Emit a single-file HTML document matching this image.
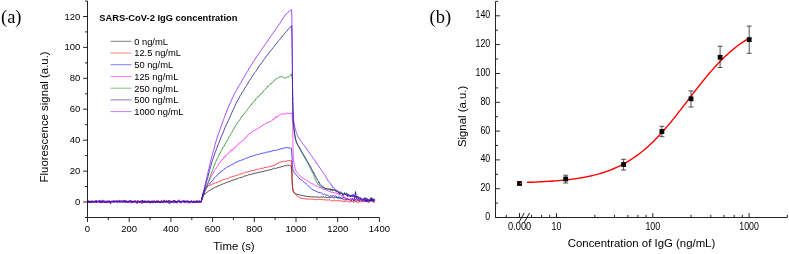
<!DOCTYPE html>
<html><head><meta charset="utf-8"><title>Figure</title>
<style>
html,body{margin:0;padding:0;background:#fff;}
body{width:789px;height:254px;overflow:hidden;font-family:"Liberation Sans",sans-serif;}
svg{display:block;}
text{font-family:"Liberation Sans",sans-serif;fill:#000;filter:grayscale(1);}
.serif{font-family:"Liberation Serif",serif;}
</style></head><body>
<svg width="789" height="254" viewBox="0 0 789 254">
<rect width="789" height="254" fill="#fff"/>
<!-- (a) time traces -->
<g fill="none" stroke-width="0.72" stroke-linejoin="round">
<path d="M87.5 201.4L88.3 201.5L89.1 201.3L89.9 201.1L90.7 201.3L91.5 201.1L92.3 201.5L93.1 201.9L93.9 201.3L94.7 201.3L95.5 201.7L96.3 201.7L97.1 201.6L97.9 201.4L98.7 201.7L99.5 201.9L100.3 201.3L101.1 201.6L101.9 201.2L102.7 201.4L103.5 201.3L104.3 201.8L105.1 201.5L105.9 202L106.7 202L107.5 201.9L108.3 201.2L109.1 201.8L109.9 202L110.7 202L111.5 201.5L112.3 201.9L113.1 201.7L113.9 201.7L114.7 202.3L115.5 201.7L116.3 201.9L117.1 202.2L117.9 201.7L118.7 201.8L119.5 201.9L120.3 201.8L121.1 201.4L121.9 201.8L122.7 202.1L123.5 201.2L124.3 201.9L125.1 201.6L125.9 201.4L126.7 202.2L127.5 201.8L128.3 201.1L129.1 201.5L129.9 201.6L130.7 201.4L131.5 201.6L132.3 201.4L133.1 201.6L133.9 201.8L134.7 201.2L135.5 201.5L136.3 201.3L137.1 201.5L137.9 201.1L138.7 201.3L139.5 201.4L140.3 201.8L141.1 201.8L141.9 201.1L142.7 201.3L143.5 201.8L144.3 201L145.1 201.5L145.9 201.7L146.7 202.1L147.5 202L148.3 201.7L149.1 201.7L149.9 201.8L150.7 202.3L151.5 201.8L152.3 201.8L153.1 202L153.9 201.9L154.7 201.9L155.5 201.6L156.3 202L157.1 201.9L157.9 202.3L158.7 202.2L159.5 202L160.3 202.2L161.1 201.9L161.9 202.3L162.7 201.9L163.5 202.1L164.3 201.5L165.1 202L165.9 201.3L166.7 201.2L167.5 201.7L168.3 201.5L169.1 201.8L169.9 202.4L170.7 201.4L171.5 201.4L172.3 201.7L173.1 201.7L173.9 201.5L174.7 201.5L175.5 201.7L176.3 201.6L177.1 201.1L177.9 201.4L178.7 201.4L179.5 201.1L180.3 201.5L181.1 201.1L181.9 201.7L182.7 201.5L183.5 201.4L184.3 201.2L185.1 201.4L185.9 200.8L186.7 201.1L187.5 201.6L188.3 200.9L189.1 201.8L189.9 201L190.7 201.8L191.5 201.4L192.3 201.9L193.1 201.7L193.9 201.3L194.7 202.1L195.5 202.2L196.3 201.8L197.1 201.8L197.9 201.8L198.7 201.6L199.5 202.3L200.3 201.8L201.1 201.9L201.2 201.5L201.9 199.2L202.6 197L203.3 195.5L204 194.6L204.7 194L205.4 193.6L206.1 193L206.8 192.5L207.5 191.9L208.2 191.4L208.9 190.8L209.6 190.3L210.3 190.2L211 189.5L211.7 189.1L212.4 188.9L213.1 188.7L213.8 187.9L214.5 187.7L215.2 187.3L215.9 186.8L216.6 186.9L217.3 186.5L218 186.2L218.7 185.7L219.4 185.6L220.1 185.1L220.8 184.9L221.5 184.4L222.2 184.1L222.9 184.3L223.6 183.6L224.3 183.5L225 183.1L225.7 182.8L226.4 182.5L227.1 182.4L227.8 182L228.5 181.8L229.2 181.5L229.9 181.5L230.6 181.1L231.3 180.8L232 180.4L232.7 180L233.4 180.1L234.1 179.9L234.8 179.4L235.5 179.3L236.2 179.1L236.9 178.9L237.6 178.7L238.3 178.2L239 178.3L239.7 177.6L240.4 177.7L241.1 177.4L241.8 177.3L242.5 177.2L243.2 176.9L243.9 176.2L244.6 175.9L245.3 176.1L246 175.6L246.7 175.5L247.4 175.5L248.1 174.8L248.8 174.6L249.5 174.8L250.2 174.6L250.9 174.3L251.6 174.2L252.3 173.9L253 173.6L253.7 173.6L254.4 173.3L255.1 173L255.8 173.3L256.5 173L257.2 172.9L257.9 172.5L258.6 172.4L259.3 172.2L260 172L260.7 172.1L261.4 171.7L262.1 171.8L262.8 171.6L263.5 171.7L264.2 170.9L264.9 171.2L265.6 170.8L266.3 170.7L267 170.3L267.7 170.3L268.4 170.3L269.1 170L269.8 169.9L270.5 169.6L271.2 169.7L271.9 169.3L272.6 168.8L273.3 168.9L274 168.5L274.7 168.1L275.4 168.4L276.1 168.6L276.8 168.1L277.5 167.7L278.2 167.5L278.9 167.7L279.6 167.3L280.3 167.1L281 166.8L281.7 166.6L282.4 166.6L283.1 166.3L283.8 166.1L284.5 165.7L285.2 165.8L285.9 165.5L286.6 165.7L287.3 165.2L288 165.3L288.7 165.3L289.4 165.1L290.1 165.8L290.8 166L291.4 165.9L292 175L292 175.8L292 176.6L292 177.3L292 178.2L292.1 179L292.1 179.8L292.1 180.6L292.2 181.4L292.2 182.2L292.2 183.1L292.3 183.8L292.3 184.6L292.4 185.5L292.5 186.2L292.5 187L292.6 187.7L292.7 188.7L292.8 189.5L292.9 190.3L293.1 191.1L293.3 191.8L293.6 192.4L294.2 192.9L295 193.3L295.7 193.7L296.4 194.1L297.2 194.3L298 194.5L298.8 194.7L299.5 194.9L300.3 195.1L301.1 195.3L301.9 195.4L302.7 195.6L303.5 195.7L304.2 195.9L305 196.1L305.8 196.2L306.6 196.4L307.4 196.5L308.2 196.6L309 196.5L309.8 196.7L310.6 196.7L311.4 196.9L312.2 196.8L313 196.9L313.8 197.1L314.6 196.9L315.4 196.9L316.2 197L317 197L317.8 196.9L318.6 197.1L319.4 197.4L320.2 197.1L321 197.1L321.8 197L322.6 197.2L323.4 196.9L324.2 197L325 197.4L325.8 197L326.6 197.5L327.4 197.6L328.2 197.3L329 197.4L329.8 197.8L330.6 197.3L331.4 197.2L332.2 197.1L333 197.5L333.8 197.9L334.6 197.8L335.4 197.3L336.2 197.4L337 197.5L337.8 197.9L338.5 197.9L339.3 198.1L340.1 198.3L340.9 198.3L341.7 198.6L342.5 198.9L343.2 199L344 199.4L344.8 200L345.6 199.8L346.4 199.8L347.2 199.3L348 200.1L348.7 199.4L349.5 199.7L350.3 200.5L351.1 200.5L351.9 200.2L352.7 199.6L353.5 200.2L354.3 200.1L355.1 200.6L355.9 201.4L356.7 200.5L357.5 200.1L358.3 200L359.1 200.5L359.9 200.4L360.7 200L361.5 200.6L362.3 200.1L363.1 201.1L363.9 201.1L364.7 201.1L365.5 200.4L366.3 200.9L367.1 200.6L367.9 200.5L368.7 200.5L369.5 200.1L370.3 200L371.1 201L371.9 200.6L372.7 200.8L373.5 201.1L374.3 199.9" stroke="#000000"/>
<path d="M87.5 201.1L88.3 201.7L89.1 201.8L89.9 201.3L90.7 202.1L91.5 201.6L92.3 200.7L93.1 200.9L93.9 201.9L94.7 201.7L95.5 200.3L96.3 202.2L97.1 201.8L97.9 202.3L98.7 201.2L99.5 201.3L100.3 200.9L101.1 203.1L101.9 201.5L102.7 202.6L103.5 201.3L104.3 201.8L105.1 200.8L105.9 201.6L106.7 202.4L107.5 201.1L108.3 202.6L109.1 202.1L109.9 201.3L110.7 201.7L111.5 201.7L112.3 202L113.1 201.7L113.9 201.5L114.7 201.8L115.5 201.4L116.3 201.2L117.1 201.9L117.9 202.4L118.7 200.9L119.5 201.8L120.3 201.4L121.1 201.2L121.9 202.2L122.7 201.4L123.5 202.5L124.3 201.1L125.1 201.8L125.9 201.4L126.7 201L127.5 201.8L128.3 201.3L129.1 201.8L129.9 201.4L130.7 200.7L131.5 201.3L132.3 201.4L133.1 202L133.9 200.9L134.7 201.4L135.5 200.4L136.3 201.9L137.1 200.9L137.9 200.5L138.7 201.6L139.5 202.3L140.3 200.8L141.1 201.1L141.9 201.3L142.7 201.1L143.5 202.1L144.3 201.4L145.1 201.5L145.9 202.3L146.7 201.5L147.5 202.2L148.3 201.4L149.1 201.3L149.9 200.9L150.7 203.1L151.5 201.8L152.3 202.1L153.1 201.9L153.9 202L154.7 201.9L155.5 203L156.3 201.2L157.1 200.8L157.9 201.1L158.7 200.9L159.5 202.1L160.3 202.1L161.1 201L161.9 200.7L162.7 201.3L163.5 202.3L164.3 199.8L165.1 201.7L165.9 200.8L166.7 202L167.5 200.8L168.3 201.2L169.1 200.5L169.9 200.8L170.7 202.3L171.5 201.9L172.3 201.2L173.1 201L173.9 200.4L174.7 201.3L175.5 201.6L176.3 201.6L177.1 201.6L177.9 201.1L178.7 201.7L179.5 201.8L180.3 202.6L181.1 203L181.9 201.8L182.7 201.5L183.5 201.9L184.3 201.6L185.1 201.5L185.9 202L186.7 201.4L187.5 202.4L188.3 201.9L189.1 202.1L189.9 201.8L190.7 201.5L191.5 201.3L192.3 201.7L193.1 201.5L193.9 201.9L194.7 201.7L195.5 200.9L196.3 201.7L197.1 200.8L197.9 201.2L198.7 201.4L199.5 200.3L200.3 201.5L201.1 201.5L201.2 201.6L201.9 198.4L202.6 195.6L203.3 193.3L204 191.5L204.7 190L205.4 188.9L206.1 188.1L206.8 187.4L207.5 186.8L208.2 186.4L208.9 185.7L209.6 185.6L210.3 185.2L211 184.8L211.7 184.5L212.4 184L213.1 183.8L213.8 183.7L214.5 183.4L215.2 183.1L215.9 182.4L216.6 182.7L217.3 182.6L218 182.3L218.7 181.8L219.4 181.1L220.1 181.5L220.8 180.9L221.5 180L222.2 180.5L222.9 179.7L223.6 179.5L224.3 179.4L225 179.6L225.7 178.9L226.4 178.8L227.1 178.9L227.8 178.6L228.5 177.9L229.2 177.6L229.9 177.1L230.6 177.1L231.3 177.1L232 176.9L232.7 176.6L233.4 176.6L234.1 175.9L234.8 175.9L235.5 175.9L236.2 175.6L236.9 175.5L237.6 175.2L238.3 174.8L239 174.7L239.7 174.2L240.4 173.8L241.1 174.1L241.8 173.7L242.5 173.6L243.2 172.9L243.9 173L244.6 172.7L245.3 172.4L246 171.8L246.7 172.1L247.4 172.2L248.1 171.9L248.8 171.4L249.5 171.3L250.2 171.3L250.9 170.3L251.6 170.7L252.3 170.7L253 170.6L253.7 170.6L254.4 170.3L255.1 169.9L255.8 169.7L256.5 169.7L257.2 169.2L257.9 169.1L258.6 169.2L259.3 169.3L260 168.6L260.7 168.4L261.4 168.3L262.1 168.5L262.8 168L263.5 168.2L264.2 167.5L264.9 167.5L265.6 167.4L266.3 167.5L267 167.5L267.7 166.7L268.4 166.7L269.1 166.9L269.8 166.4L270.5 166.1L271.2 166.5L271.9 166.2L272.6 166L273.3 165.5L274 165.6L274.7 165.1L275.4 165.1L276.1 164L276.8 163.5L277.5 163.4L278.2 162.9L278.9 163L279.6 162.6L280.3 162.1L281 162.1L281.7 161.7L282.4 161.8L283.1 161.2L283.8 161.1L284.5 161.4L285.2 161.5L285.9 161.3L286.6 160.8L287.3 160.8L288 161.1L288.7 160.7L289.4 160.5L290.1 160.7L290.8 160.8L291.5 160.7L292 175L292 175.7L292 176.6L292 177.6L292 178.3L292.1 179.2L292.1 180L292.1 180.8L292.2 181.6L292.2 182.4L292.3 183.1L292.3 183.9L292.4 184.7L292.5 185.6L292.5 186.3L292.6 187L292.7 187.8L292.8 188.5L293 189.4L293.2 190L293.5 190.8L293.9 191.6L294.3 192.5L294.8 193.1L295.2 193.7L295.7 194.4L296.2 195L296.7 195.5L297.3 196L298 196.7L298.7 197.1L299.4 197.5L300.1 197.7L300.8 198.1L301.6 198.3L302.4 198.4L303.2 198.6L304 198.6L304.8 198.8L305.6 198.9L306.4 199L307.2 199.1L308 199L308.7 199L309.5 199.2L310.3 199.1L311.1 199.2L311.9 199.2L312.7 199.3L313.5 199L314.4 199.5L315.2 199.4L316 199.6L316.8 199.8L317.6 199.5L318.4 199.2L319.2 199.4L320 199.4L320.8 199.5L321.6 199.7L322.4 199.3L323.2 199.9L324 199.5L324.8 200L325.5 199.9L326.3 199.9L327.1 200L327.9 200L328.7 200L329.5 199.7L330.3 200.3L331.1 200.9L331.9 201L332.7 200.9L333.5 200.7L334.3 200.3L335.1 201.1L335.9 200.6L336.7 200.7L337.5 200.6L338.3 200.8L339.1 200.7L339.9 200.9L340.7 200.5L341.5 200.8L342.3 202L343.1 201.1L343.9 201L344.7 201.4L345.5 201.6L346.3 200.8L347.1 201.3L347.9 201.9L348.7 201.6L349.5 201.6L350.3 202.4L351.1 201.3L351.9 201.7L352.7 201.4L353.5 202.5L354.3 200.7L355.1 201.4L355.9 201.5L356.7 202.2L357.5 202.1L358.3 202.6L359.1 200.9L359.9 202.2L360.7 201.6L361.5 201.4L362.3 202.1L363.1 201.2L363.9 200.5L364.7 201.6L365.5 200.9L366.3 201.4L367.1 202L367.9 201.9L368.7 202.7L369.5 201.6L370.3 200.8L371.1 201.2L371.9 201.1L372.7 200.9L373.5 201.8L374.3 201.1" stroke="#ff0000"/>
<path d="M87.5 199.8L88.3 202.1L89.1 201.4L89.9 201.8L90.7 201.5L91.5 202L92.3 201.5L93.1 202.5L93.9 201.8L94.7 201.7L95.5 201.7L96.3 200.2L97.1 201.3L97.9 201.2L98.7 201.6L99.5 200.3L100.3 202.8L101.1 201.5L101.9 200.4L102.7 200L103.5 201.3L104.3 201.5L105.1 200.9L105.9 201.7L106.7 201.1L107.5 202.1L108.3 201L109.1 201.7L109.9 202.5L110.7 203.9L111.5 200.9L112.3 201.4L113.1 201.1L113.9 202.5L114.7 200.9L115.5 201.5L116.3 201.9L117.1 201.1L117.9 201.1L118.7 201.6L119.5 200.2L120.3 200.8L121.1 201.6L121.9 202.1L122.7 201.8L123.5 200.5L124.3 201.6L125.1 202.7L125.9 202.5L126.7 201.9L127.5 201.2L128.3 202.5L129.1 201.5L129.9 200.9L130.7 201.2L131.5 203.1L132.3 202.1L133.1 202.8L133.9 201.4L134.7 202.6L135.5 201.3L136.3 201.6L137.1 203.8L137.9 202.3L138.7 201.2L139.5 201.6L140.3 201.9L141.1 202.6L141.9 201.1L142.7 200.1L143.5 201.3L144.3 201.5L145.1 201.6L145.9 202.6L146.7 201.7L147.5 202.1L148.3 200.5L149.1 202.2L149.9 203.2L150.7 202.1L151.5 201.6L152.3 201.5L153.1 202.9L153.9 200.6L154.7 201.3L155.5 201.8L156.3 202.1L157.1 201.1L157.9 201.7L158.7 201.2L159.5 201.6L160.3 201.4L161.1 200.6L161.9 201.6L162.7 202.3L163.5 200.8L164.3 201.4L165.1 202.2L165.9 200.8L166.7 201.9L167.5 200.9L168.3 202.7L169.1 203.8L169.9 203.5L170.7 201.7L171.5 202.5L172.3 202L173.1 202L173.9 203.2L174.7 200.8L175.5 202.9L176.3 201.9L177.1 203.2L177.9 202.2L178.7 201.4L179.5 202.2L180.3 202.6L181.1 202L181.9 202.4L182.7 201.5L183.5 200.2L184.3 202.7L185.1 202.5L185.9 202.1L186.7 202L187.5 202.8L188.3 201.5L189.1 201.3L189.9 201.7L190.7 202.8L191.5 200.6L192.3 202.8L193.1 201.2L193.9 200.8L194.7 202.7L195.5 201.6L196.3 200.5L197.1 201.3L197.9 202.4L198.7 202.6L199.5 201.2L200.3 201.9L201.1 202.1L201.2 201.6L201.9 198.4L202.6 195.4L203.3 192.9L204 191L204.7 189.6L205.4 188.5L206.1 187.7L206.8 186.8L207.5 186L208.2 185.4L208.9 184.6L209.6 184L210.3 182.8L211 182.2L211.7 181.2L212.4 180.7L213.1 179.9L213.8 178.5L214.5 177.9L215.2 177.4L215.9 176.6L216.6 175.9L217.3 175L218 174.4L218.7 173.8L219.4 173L220.1 172.7L220.8 171.4L221.5 171.4L222.2 170.5L222.9 170.4L223.6 169.6L224.3 169L225 168.7L225.7 168L226.4 167.5L227.1 167L227.8 166.8L228.5 166.5L229.2 166.2L229.9 165.5L230.6 165.4L231.3 164.8L232 164.4L232.7 164.2L233.4 163.9L234.1 163.3L234.8 162.9L235.5 162.6L236.2 162.3L236.9 161.8L237.6 161.9L238.3 161.3L239 161.1L239.7 160.6L240.4 160.5L241.1 160.2L241.8 159.8L242.5 160L243.2 159.4L243.9 159.4L244.6 159L245.3 158.4L246 158.3L246.7 158.2L247.4 157.9L248.1 157.6L248.8 157.3L249.5 156.8L250.2 156.9L250.9 156.3L251.6 156.5L252.3 156.1L253 155.9L253.7 155.7L254.4 155.6L255.1 155.1L255.8 154.8L256.5 154.7L257.2 154.3L257.9 154.3L258.6 154.6L259.3 153.9L260 154L260.7 153.4L261.4 153.6L262.1 153.3L262.8 153.2L263.5 153.1L264.2 153.2L264.9 152.7L265.6 152.5L266.3 152.1L267 152.3L267.7 152L268.4 152L269.1 151.7L269.8 151.9L270.5 151L271.2 151.2L271.9 151.2L272.6 150.8L273.3 150.6L274 150.6L274.7 150.2L275.4 150.3L276.1 150.6L276.8 150.2L277.5 149.6L278.2 149.4L278.9 149.4L279.6 149.5L280.3 148.9L281 148.7L281.7 148.9L282.4 148.7L283.1 148.3L283.8 148L284.5 147.8L285.2 147.8L285.9 147.4L286.6 148L287.3 147.6L288 147.8L288.7 148.1L289.4 148L290.1 147.7L290.8 148.3L291.4 148.3L292.2 158.1L292.2 158.8L292.2 159.7L292.2 160.6L292.3 161.3L292.3 162.4L292.3 162.9L292.4 163.8L292.4 164.7L292.5 165.4L292.5 166.2L292.6 167L292.7 167.7L292.8 168.6L292.9 169L293 169.9L293.2 170.6L293.5 171.3L293.9 172L294.4 172.6L294.9 173.3L295.4 174.1L296 174.7L296.6 175.2L297.2 176.1L297.7 176.7L298.2 177L298.8 177.7L299.3 178.4L299.9 178.8L300.5 179.3L301.1 179.8L301.8 180.2L302.4 180.8L303 181.3L303.7 181.9L304.3 182.3L304.9 182.8L305.5 183.2L306.1 183.9L306.7 184.3L307.3 184.9L307.9 185.6L308.5 186.1L309.1 186.7L309.7 187.3L310.3 187.8L310.9 188.2L311.5 188.7L312.1 189.4L312.8 189.5L313.4 190.4L314.1 190.5L314.8 190.7L315.6 191L316.3 191.3L317.1 191.8L317.8 191.9L318.6 192.6L319.3 192.4L320.1 192.3L320.8 193L321.6 192.9L322.3 193.8L323.1 194.4L323.8 194.5L324.6 194L325.4 194.4L326.1 195.5L326.9 195.1L327.7 195.2L328.5 195.7L329.3 196.4L330.1 196.1L330.9 195.7L331.7 195.9L332.5 196.2L333.2 195.8L334 195.7L334.8 196.3L335.6 196L336.4 196.5L337.2 196.8L338 198.1L338.8 196.6L339.5 197.2L340.3 197.4L341.1 197.9L341.9 198.5L342.7 197.8L343.4 197.7L344.2 197.4L345 198L345.8 199.1L346.6 198.9L347.4 198.4L348.1 198.9L348.9 199.3L349.7 199.7L350.5 199L351.3 199.3L352.1 198.2L352.9 198.8L353.7 200.9L354.5 198.1L355.3 199.6L356.1 200L356.9 199.6L357.6 199.4L358.4 200L359.2 200.1L360 200.1L360.8 198.7L361.6 200.1L362.4 199.6L363.2 199.9L364 200.6L364.8 201L365.6 201.2L366.4 200.1L367.2 201.3L368 201.5L368.8 201.5L369.6 201.8L370.4 200.5L371.3 200.5L372.1 201.4L372.9 199.6L373.7 200.9L374.5 200.3" stroke="#0000ff"/>
<path d="M87.5 201.7L88.3 200.7L89.1 201.3L89.9 201.9L90.7 202.5L91.5 202.5L92.3 201.8L93.1 201.7L93.9 201.2L94.7 202L95.5 201.6L96.3 202.1L97.1 202.9L97.9 201.6L98.7 200.6L99.5 201L100.3 200.6L101.1 200.7L101.9 202.5L102.7 201.7L103.5 200.4L104.3 202L105.1 202.4L105.9 201.2L106.7 201L107.5 201.2L108.3 201.6L109.1 201.9L109.9 202.2L110.7 202.3L111.5 202.2L112.3 202.4L113.1 201.9L113.9 200.3L114.7 201.3L115.5 201.6L116.3 201.2L117.1 202.1L117.9 201.2L118.7 200.8L119.5 202.5L120.3 202L121.1 201.7L121.9 202.2L122.7 202.3L123.5 201.8L124.3 199.9L125.1 201.1L125.9 201.3L126.7 201L127.5 201.8L128.3 202.5L129.1 201.4L129.9 201L130.7 203.2L131.5 201.5L132.3 201L133.1 202L133.9 202.2L134.7 201.4L135.5 202.5L136.3 201.6L137.1 201.3L137.9 202.1L138.7 202.5L139.5 201.5L140.3 202.2L141.1 201.9L141.9 204L142.7 201.5L143.5 203L144.3 202L145.1 201.9L145.9 202.5L146.7 202.6L147.5 202.9L148.3 202.2L149.1 201.5L149.9 201.6L150.7 202.3L151.5 202.3L152.3 202.9L153.1 202.2L153.9 202.6L154.7 202.9L155.5 201.9L156.3 200.7L157.1 200.9L157.9 200.7L158.7 202.8L159.5 201.1L160.3 202.5L161.1 202L161.9 202.8L162.7 202.3L163.5 201.5L164.3 201.4L165.1 201.6L165.9 201.6L166.7 201.1L167.5 201.5L168.3 202.6L169.1 200.3L169.9 201.6L170.7 200.8L171.5 201.5L172.3 202L173.1 201.4L173.9 201.9L174.7 200.3L175.5 202.2L176.3 201L177.1 201.8L177.9 201.5L178.7 199.6L179.5 200.9L180.3 201.6L181.1 202.5L181.9 201.7L182.7 201.7L183.5 200.5L184.3 202.5L185.1 202.8L185.9 201.6L186.7 201.4L187.5 200.5L188.3 202.3L189.1 203.6L189.9 202.2L190.7 202.6L191.5 202.1L192.3 201.1L193.1 202.7L193.9 200.9L194.7 201.7L195.5 202L196.3 202.5L197.1 202.2L197.9 202.2L198.7 201.4L199.5 201L200.3 202L201.1 201.5L201.2 201.6L201.9 199.3L202.6 197.3L203.3 195.2L204 193.4L204.7 191.5L205.4 189.7L206.1 187.6L206.8 185.9L207.5 184.4L208.2 182.7L208.9 181.2L209.6 180.1L210.3 178.3L211 176.8L211.7 175.5L212.4 174.5L213.1 173.3L213.8 171.6L214.5 170.5L215.2 169.8L215.9 168.7L216.6 167.2L217.3 166.5L218 165.5L218.7 163.8L219.4 163.3L220.1 162.5L220.8 161.3L221.5 160L222.2 159.7L222.9 159.2L223.6 158.6L224.3 156.7L225 157.4L225.7 155.5L226.4 155.4L227.1 154.8L227.8 154L228.5 153.1L229.2 152.1L229.9 151.9L230.6 150.9L231.3 149.7L232 150.7L232.7 149.5L233.4 149.2L234.1 147.8L234.8 147.9L235.5 147.4L236.2 146.8L236.9 145.7L237.6 144.7L238.3 144.4L239 143.2L239.7 142.8L240.4 142.7L241.1 141.7L241.8 141.4L242.5 140.7L243.2 140.7L243.9 139.8L244.6 138.7L245.3 138.4L246 137L246.7 136.5L247.4 136.1L248.1 134.8L248.8 134.4L249.5 133.5L250.2 133.4L250.9 133.3L251.6 132.1L252.3 131.9L253 131.1L253.7 130.5L254.4 130.1L255.1 130.4L255.8 130.3L256.5 129.3L257.2 128.5L257.9 128.5L258.6 127.8L259.3 127.8L260 127.2L260.7 126.8L261.4 126.5L262.1 125.7L262.8 125.4L263.5 124.6L264.2 124.6L264.9 123.9L265.6 123.9L266.3 123.3L267 123.2L267.7 122.9L268.4 122L269.1 121.8L269.8 121.4L270.5 121.5L271.2 121.3L271.9 120.6L272.6 119.7L273.3 119.8L274 118.4L274.7 118.7L275.4 117.6L276.1 116.4L276.8 117.6L277.5 116.8L278.2 115.6L278.9 115.5L279.6 115L280.3 114.7L281 114L281.7 114L282.4 114.1L283.1 113.9L283.8 114.1L284.5 113.7L285.2 114.4L285.9 113.4L286.6 113.7L287.3 113L288 113.1L288.7 113.9L289.4 113.2L290.1 113.6L290.8 113.4L291.5 113.1L292 113.4L292.8 125L292.8 125.8L292.8 126.6L292.8 127.5L292.8 128.3L292.8 129L292.8 129.8L292.8 130.7L292.8 131.4L292.8 132.3L292.8 133.2L292.8 133.9L292.8 134.6L292.8 135.4L292.9 136.2L292.9 137L292.9 137.8L292.9 138.6L292.9 139.4L292.9 140.3L292.9 141L292.9 141.8L292.9 142.6L292.9 143.6L293 144.3L293 145.2L293 145.9L293 146.8L293 147.4L293 148.3L293.1 149.2L293.1 149.7L293.1 150.7L293.1 151.5L293.1 152.2L293.1 153.1L293.2 153.9L293.2 154.5L293.2 155.4L293.2 156.1L293.3 157L293.4 157.8L293.4 158.6L293.5 159.5L293.6 160.3L293.7 161L293.8 162.1L294 162.8L294.1 163.6L294.2 164.3L294.4 165.1L294.6 166L294.7 166.7L294.9 167.3L295.1 168.3L295.3 169.2L295.5 169.5L295.8 170.4L296.1 171.1L296.4 171.7L296.9 172.5L297.4 173L297.9 173.7L298.5 174.4L299.1 174.9L299.6 175.5L300.2 176.1L300.8 176.6L301.4 177.2L302 177.5L302.7 178.1L303.4 178.4L304.1 179L304.8 179.3L305.5 179.6L306.1 180.2L306.8 180.5L307.5 181L308.2 181.6L308.9 181.7L309.6 182.1L310.3 182.8L311 183L311.7 183.6L312.4 183.8L313.1 184L313.8 184.5L314.5 185.1L315.2 185.4L315.9 185.6L316.6 186L317.4 186.3L318.1 186.5L318.8 187.5L319.5 187.4L320.3 187.4L321 187.9L321.7 188.6L322.4 188.9L323.2 189L323.9 189.1L324.7 189.6L325.4 189.3L326.2 189.7L326.9 190.7L327.7 190.5L328.4 191L329.2 191.6L330 191.6L330.8 191.6L331.5 192.6L332.3 192.3L333.1 192.1L333.8 192.8L334.6 192.9L335.4 192.6L336.1 193.3L336.8 193.5L337.5 193L338.2 194.2L339 194.5L339.7 194.8L340.4 194.6L341.1 195.6L341.8 196.1L342.5 196.5L343.3 196.2L344 197.6L344.7 196.9L345.5 197.8L346.2 199.1L346.9 198.2L347.7 198.7L348.4 199.9L349.2 199.2L349.9 199.5L350.7 199.9L351.5 200.5L352.3 198.4L353 199.4L353.8 199.3L354.6 199.3L355.4 199.5L356.2 199.5L357 200.4L357.9 199.5L358.7 200.3L359.5 200.5L360.3 199.7L361.1 200.4L361.9 201.6L362.7 200.6L363.5 199.9L364.3 200.3L365.1 199.7L365.9 200.6L366.7 201.1L367.5 199.9L368.3 200.4L369.1 201.4L369.9 200.2L370.7 200.7L371.5 199.8L372.3 200L373.1 200.3L373.9 202.3L374.7 200.4" stroke="#ff00ff"/>
<path d="M87.5 201.8L88.3 201.8L89.1 201.9L89.9 202.3L90.7 202.1L91.5 202.8L92.3 202L93.1 202.5L93.9 202L94.7 202.2L95.5 201.3L96.3 201.8L97.1 201.8L97.9 201.7L98.7 200.9L99.5 202.1L100.3 201.6L101.1 201.6L101.9 201.6L102.7 201.6L103.5 201.8L104.3 201.1L105.1 201.2L105.9 201.7L106.7 201.6L107.5 201.4L108.3 201.3L109.1 201.2L109.9 201.5L110.7 201.9L111.5 201L112.3 202L113.1 201.8L113.9 201.2L114.7 201.7L115.5 200.8L116.3 200.7L117.1 200.9L117.9 201.2L118.7 201.3L119.5 201.2L120.3 201.5L121.1 200.6L121.9 201.6L122.7 200.9L123.5 201.2L124.3 201.3L125.1 201L125.9 201L126.7 201.1L127.5 201.6L128.3 201.8L129.1 201.8L129.9 201.2L130.7 201.4L131.5 201.3L132.3 201.9L133.1 200.9L133.9 202.3L134.7 201.6L135.5 201.5L136.3 202L137.1 202.3L137.9 202L138.7 202.3L139.5 202L140.3 202.4L141.1 202.5L141.9 201.9L142.7 202.6L143.5 202.1L144.3 202L145.1 201.6L145.9 201.9L146.7 202.3L147.5 201.5L148.3 202.3L149.1 202.1L149.9 202.1L150.7 201.1L151.5 201.9L152.3 202.2L153.1 201.6L153.9 201.9L154.7 200.9L155.5 202.1L156.3 201.6L157.1 202.2L157.9 201.1L158.7 202.1L159.5 201.7L160.3 202.1L161.1 201.3L161.9 201.4L162.7 202.5L163.5 201.3L164.3 201.3L165.1 201.5L165.9 201.1L166.7 202L167.5 202.2L168.3 201.2L169.1 200.8L169.9 201.9L170.7 201.9L171.5 201.8L172.3 201.9L173.1 201.1L173.9 201.3L174.7 200.8L175.5 200.8L176.3 201.8L177.1 201.1L177.9 202.3L178.7 201.4L179.5 201.2L180.3 201.8L181.1 202.2L181.9 201.7L182.7 201L183.5 201.6L184.3 202.1L185.1 201.3L185.9 201.2L186.7 202L187.5 201.7L188.3 201.2L189.1 201.5L189.9 201.4L190.7 201.8L191.5 201.8L192.3 202.2L193.1 202.1L193.9 201.2L194.7 202L195.5 202.2L196.3 202L197.1 202.3L197.9 201.7L198.7 201.5L199.5 202.3L200.3 201.5L201.1 201.1L201.2 202.2L201.9 200.1L202.6 198.1L203.3 196.2L204 194.3L204.7 192.4L205.4 190.2L206.1 188.6L206.8 186.4L207.5 184.4L208.2 182.7L208.9 180.6L209.6 178.3L210.3 176.9L211 174.3L211.7 172.5L212.4 170.5L213.1 168.9L213.8 166.5L214.5 165.1L215.2 162.8L215.9 161.7L216.6 159.5L217.3 158.2L218 157.5L218.7 155.6L219.4 154.1L220.1 153.6L220.8 151.6L221.5 150L222.2 149.3L222.9 147.4L223.6 147L224.3 145.9L225 144.1L225.7 142.9L226.4 142L227.1 140.7L227.8 139.1L228.5 138.4L229.2 136.3L229.9 135.6L230.6 134.4L231.3 133.2L232 132.2L232.7 130.5L233.4 129.9L234.1 128.4L234.8 127.1L235.5 125.7L236.2 124.6L236.9 124L237.6 122.4L238.3 121.7L239 121L239.7 119.9L240.4 119.1L241.1 117.5L241.8 116.2L242.5 116L243.2 114.9L243.9 114.2L244.6 113L245.3 112.5L246 111.5L246.7 110.5L247.4 109.5L248.1 108.6L248.8 107.6L249.5 106.7L250.2 106.1L250.9 104.7L251.6 104.6L252.3 103.2L253 102.7L253.7 101.5L254.4 100.7L255.1 100.7L255.8 99.1L256.5 98L257.2 97.4L257.9 96.8L258.6 96.9L259.3 95.5L260 95L260.7 93.6L261.4 93.3L262.1 92.7L262.8 92.4L263.5 90.8L264.2 90.5L264.9 89.7L265.6 88.5L266.3 88.2L267 87.4L267.7 86L268.4 86.4L269.1 85.7L269.8 84.7L270.5 83.7L271.2 83.9L271.9 82.8L272.6 82.4L273.3 81.8L274 80.4L274.7 80.3L275.4 79.3L276.1 78.9L276.8 78.4L277.5 78.1L278.2 78.1L278.9 77.4L279.6 77L280.3 76.7L281 76.8L281.7 76.5L282.4 77L283.1 77.6L283.8 77.8L284.5 78L285.2 77.6L285.9 78.1L286.6 77.5L287.3 76.8L288 76.5L288.7 77.1L289.4 76.1L290.1 75.4L290.8 74.8L291.5 73.9L291.7 73.8L292.4 80.1L292.4 80.8L292.4 81.8L292.4 82.3L292.4 83.3L292.4 83.9L292.5 85L292.5 85.6L292.5 86.4L292.5 87.3L292.5 88.1L292.5 88.7L292.5 89.6L292.5 90.3L292.5 91.2L292.6 92L292.6 92.8L292.6 93.5L292.6 94.4L292.6 95.1L292.6 96.1L292.6 97L292.7 97.4L292.7 98.4L292.7 99.2L292.7 100L292.7 100.7L292.7 101.6L292.7 102.3L292.8 103.3L292.8 104L292.8 104.8L292.8 105.6L292.8 106.4L292.8 107L292.9 108.1L292.9 108.8L292.9 109.6L292.9 110.5L292.9 111.3L292.9 111.9L293 112.7L293 113.8L293 114.6L293 115.1L293.1 115.9L293.1 116.7L293.1 117.5L293.1 118.2L293.2 119.2L293.2 119.9L293.2 120.7L293.3 121.7L293.3 122.3L293.4 123.2L293.4 124.1L293.5 124.9L293.6 125.6L293.6 126.4L293.7 127.1L293.8 128.2L293.9 128.9L294 129.5L294.1 130.5L294.2 131.3L294.3 132.1L294.4 133L294.5 133.8L294.6 134.4L294.8 135.2L294.9 135.9L295 136.8L295.2 137.6L295.3 138.6L295.5 139.1L295.6 139.6L295.8 140.5L296 141.3L296.3 141.9L296.6 142.7L296.9 143.5L297.2 144.3L297.6 145L298 145.6L298.4 146.5L298.8 147.1L299.2 147.8L299.6 148.4L300 149.2L300.4 150L300.8 150.5L301.1 151.4L301.5 152.2L301.9 152.8L302.3 153.5L302.7 154.1L303.1 155L303.5 155.7L303.9 156.3L304.3 156.8L304.7 157.6L305.1 158.5L305.5 159.2L305.9 159.8L306.3 160.6L306.6 161.1L307 161.8L307.4 162.6L307.8 163.3L308.1 163.8L308.5 164.8L308.9 165.6L309.2 165.9L309.6 166.6L310 167.6L310.4 168.1L310.7 168.5L311.1 169.8L311.5 170.4L311.9 171L312.2 172.3L312.6 172.6L312.9 173.2L313.2 174.2L313.6 174.7L313.9 175.5L314.2 176.6L314.6 177.2L314.9 178L315.2 179.3L315.6 179.9L315.9 180.6L316.3 181.3L316.7 182L317.1 183L317.5 183.2L317.9 184.4L318.3 184.1L318.8 184.9L319.2 185L319.8 185.9L320.3 186.6L320.9 187.4L321.6 187L322.3 187.6L323.1 187.8L323.9 187.9L324.7 188L325.4 188.8L326.2 188.1L327 189.1L327.8 189.2L328.6 189L329.4 189L330.2 188.9L331 190.8L331.8 189.1L332.6 190.9L333.4 190.5L334.1 190.1L334.9 189.8L335.6 191.4L336.4 192.1L337.1 190.8L337.8 191.6L338.5 192.9L339.2 192.8L339.9 194.4L340.7 192.9L341.4 194L342.2 192.8L342.9 195.5L343.7 193.5L344.5 192.5L345.3 194.2L346.1 194.3L346.9 196.1L347.7 194.4L348.5 194.8L349.3 195.5L350.1 196.5L350.8 195.3L351.6 196.5L352.4 196.2L353.1 195.7L353.9 196.3L354.7 196.5L355.4 195.8L356.2 198.1L357 195.8L357.7 198.6L358.5 198.6L359.3 197.8L360.1 197.2L360.8 198L361.6 198.9L362.4 199.4L363.2 199L364 199.9L364.7 198.4L365.5 199.4L366.3 197.7L367.1 200.2L367.9 199.7L368.7 199.3L369.5 201L370.3 200.7L371.1 197.1L371.9 200.2L372.6 198.7L373.4 201.5L374.2 203" stroke="#008000"/>
<path d="M87.5 201.4L88.3 201.7L89.1 201.6L89.9 201.8L90.7 202L91.5 202.3L92.3 201.4L93.1 202.4L93.9 201.5L94.7 202L95.5 202.4L96.3 202.2L97.1 201.6L97.9 201.7L98.7 201.8L99.5 202L100.3 202.4L101.1 201.5L101.9 202.2L102.7 202.2L103.5 202.2L104.3 202.2L105.1 202.6L105.9 202.2L106.7 202.3L107.5 202.2L108.3 202.6L109.1 201.1L109.9 202.4L110.7 201.7L111.5 201.7L112.3 201.4L113.1 201L113.9 201.6L114.7 201.4L115.5 201.9L116.3 201L117.1 202.2L117.9 201.7L118.7 201.5L119.5 201.2L120.3 201.2L121.1 201L121.9 201.2L122.7 201.4L123.5 201.4L124.3 200.9L125.1 201.3L125.9 201L126.7 201.5L127.5 202.1L128.3 201.7L129.1 201.3L129.9 200.8L130.7 200.9L131.5 200.8L132.3 201.8L133.1 201.2L133.9 201.5L134.7 201.3L135.5 201.6L136.3 202.2L137.1 201.3L137.9 201.5L138.7 201.4L139.5 202.1L140.3 201.3L141.1 201.3L141.9 201.2L142.7 201.3L143.5 202L144.3 202.9L145.1 201.5L145.9 202.3L146.7 202L147.5 201.5L148.3 201.9L149.1 201.9L149.9 201.7L150.7 202.8L151.5 201.2L152.3 202.2L153.1 202.1L153.9 201.8L154.7 202L155.5 202.3L156.3 202L157.1 202.1L157.9 202.2L158.7 201.1L159.5 202.4L160.3 202.7L161.1 202.2L161.9 202.2L162.7 201.2L163.5 201.7L164.3 201.4L165.1 201.4L165.9 202L166.7 201.3L167.5 201.5L168.3 200.8L169.1 201.4L169.9 201.5L170.7 201.2L171.5 201.2L172.3 202.2L173.1 200.9L173.9 201L174.7 201.1L175.5 201.9L176.3 202.2L177.1 201.5L177.9 201.1L178.7 201.2L179.5 201.9L180.3 201.1L181.1 202L181.9 202.1L182.7 201.5L183.5 201.8L184.3 201.9L185.1 202.2L185.9 201.2L186.7 202.1L187.5 201.5L188.3 201.4L189.1 201.8L189.9 201.7L190.7 201.4L191.5 201.2L192.3 201.5L193.1 202.5L193.9 202.7L194.7 202.2L195.5 202.4L196.3 201.8L197.1 201.9L197.9 202.1L198.7 201.6L199.5 201.6L200.3 202L201.1 201.9L201.2 201.6L201.9 199.1L202.6 196.5L203.3 193.9L204 191.3L204.7 188.7L205.4 186.2L206.1 183.6L206.8 181.1L207.5 178.4L208.2 175.8L208.9 172.9L209.6 170.4L210.3 167.8L211 165.3L211.7 162.9L212.4 160.6L213.1 158.6L213.8 156.4L214.5 154.2L215.2 152.6L215.9 150.7L216.6 148.5L217.3 147L218 144.9L218.7 143.5L219.4 141.5L220.1 139.6L220.8 137.9L221.5 136.2L222.2 134.7L222.9 133L223.6 131.3L224.3 129.6L225 127.4L225.7 126.5L226.4 124.6L227.1 123.4L227.8 122L228.5 120.3L229.2 118.6L229.9 117L230.6 115.5L231.3 113.8L232 112.3L232.7 110.6L233.4 109.5L234.1 107.7L234.8 106.4L235.5 104.7L236.2 103.3L236.9 101.9L237.6 100.7L238.3 99.4L239 98L239.7 96.6L240.4 95.3L241.1 94.6L241.8 93L242.5 91.8L243.2 91L243.9 89.8L244.6 88.6L245.3 87.3L246 86.7L246.7 85.2L247.4 84.1L248.1 82.9L248.8 81.6L249.5 80.5L250.2 79.8L250.9 78.7L251.6 77.5L252.3 76.2L253 75.1L253.7 74.3L254.4 73L255.1 72.4L255.8 71.4L256.5 70.6L257.2 69.2L257.9 68L258.6 66.9L259.3 65.4L260 64.9L260.7 64L261.4 63.2L262.1 62.2L262.8 61.2L263.5 60.2L264.2 59.3L264.9 58.5L265.6 57.1L266.3 56.3L267 55.2L267.7 54.8L268.4 53.8L269.1 52.8L269.8 51.6L270.5 50.9L271.2 50L271.9 49.2L272.6 48.2L273.3 47.5L274 46.4L274.7 45.8L275.4 44.8L276.1 43.9L276.8 43L277.5 42.1L278.2 41.5L278.9 40.4L279.6 39.7L280.3 38.7L281 37.7L281.7 37.3L282.4 36.1L283.1 35.6L283.8 34.7L284.5 33.5L285.2 32.8L285.9 32L286.6 31.2L287.3 30.3L288 29.8L288.7 28.8L289.4 28.1L290.1 27.2L290.8 26.5L291.6 25.8L292 34.9L292 35.8L292 36.7L292 37.4L292 38.1L292.1 38.9L292.1 39.8L292.1 40.6L292.1 41.4L292.1 42.1L292.1 43.1L292.1 44.1L292.1 44.6L292.1 45.4L292.1 46.2L292.1 46.7L292.2 47.8L292.2 48.5L292.2 49.6L292.2 50.2L292.2 50.9L292.2 51.8L292.2 52.6L292.2 53.3L292.2 54.2L292.2 54.8L292.3 55.8L292.3 56.7L292.3 57.6L292.3 58.3L292.3 59L292.3 59.9L292.3 60.7L292.3 61.6L292.3 62.3L292.3 63L292.3 63.8L292.3 64.6L292.4 65.4L292.4 66.2L292.4 66.9L292.4 67.6L292.4 68.5L292.4 69.2L292.4 70.2L292.4 71L292.4 71.6L292.4 72.7L292.4 73.5L292.4 74.2L292.4 75.2L292.4 76L292.4 76.5L292.5 77.5L292.5 78.2L292.5 79L292.5 79.9L292.5 80.5L292.5 81.3L292.5 82.1L292.5 82.9L292.5 83.8L292.5 84.4L292.5 85.3L292.5 86.3L292.5 87L292.5 87.8L292.6 88.4L292.6 89.3L292.6 90.1L292.6 91L292.6 91.7L292.6 92.7L292.6 93.4L292.6 94.2L292.6 95L292.6 95.9L292.6 96.5L292.7 97.5L292.7 98.2L292.7 99L292.7 99.8L292.7 100.7L292.7 101.5L292.7 102.3L292.8 103L292.8 103.9L292.8 104.6L292.8 105.5L292.8 106.2L292.8 106.8L292.9 108L292.9 108.6L292.9 109.3L292.9 110.2L292.9 110.9L293 112L293 112.7L293 113.2L293.1 114.3L293.1 115L293.1 116L293.1 116.5L293.2 117.1L293.2 118.2L293.3 119L293.3 119.7L293.3 120.3L293.4 121.4L293.4 122.4L293.5 122.8L293.5 123.9L293.6 124.5L293.7 125.7L293.7 126.3L293.8 127L293.9 128L294 128.7L294.1 129.4L294.2 130.3L294.3 131L294.4 131.7L294.5 132.9L294.6 133.4L294.8 134.2L294.9 135.1L295 135.6L295.2 136.4L295.3 137.3L295.5 138.1L295.6 138.9L295.8 139.8L296 140.3L296.2 141.2L296.4 141.9L296.7 142.5L297.1 143.3L297.4 143.9L297.8 144.9L298.2 145.5L298.6 146.2L299 146.7L299.4 147.6L299.8 148.2L300.2 149.1L300.7 149.7L301.1 150.3L301.5 151.2L301.9 151.9L302.3 152.4L302.6 153.3L303 153.8L303.5 154.5L303.9 155.3L304.3 155.9L304.7 156.6L305.1 157.3L305.5 158.2L305.9 158.9L306.3 159.3L306.7 160.3L307.1 160.8L307.5 161.5L307.9 162.3L308.3 162.9L308.7 164L309.1 164.3L309.5 164.7L309.8 165.9L310.2 166.3L310.6 167L311 167.1L311.4 168.7L311.8 169.3L312.2 170L312.6 170.8L313 171.7L313.4 172L313.8 173L314.2 173.3L314.5 174.1L314.9 175.3L315.3 175.9L315.7 176.1L316.1 177.4L316.4 178L316.8 178.6L317.2 179.7L317.6 180.2L318 180.5L318.5 181.3L318.9 183L319.3 182.5L319.8 183.8L320.2 184.6L320.7 185.2L321.2 185L321.7 185.9L322.3 186.5L322.8 187.3L323.4 187L324 187.2L324.8 188.5L325.6 188.9L326.3 188.8L327.1 188.5L327.9 189.2L328.7 189.2L329.5 189.8L330.3 188.8L331.1 189.7L331.9 189.6L332.7 189.2L333.4 190.1L334.2 190.2L335 190.1L335.7 190.8L336.5 189.9L337.2 191.2L337.9 192L338.6 192.3L339.3 193.3L340 191.9L340.8 192L341.5 193.6L342.3 193.9L343 195.4L343.8 194.4L344.6 193.2L345.4 194.8L346.2 193.5L347 193L347.8 196.8L348.6 194.8L349.4 195.4L350.2 195.4L350.9 196.8L351.7 195.5L352.5 196.7L353.3 194.7L354 194.5L354.8 197.7L355.5 191.6L356.3 197.2L357.1 197.2L357.8 197.4L358.6 196.7L359.4 199.4L360.1 198.6L360.9 198.6L361.7 198.7L362.5 199.6L363.3 199.1L364 199.5L364.8 197.5L365.6 199.6L366.4 201.6L367.2 198.7L368 199.3L368.8 200.5L369.6 200.7L370.3 200.5L371.1 198.1L371.9 200.5L372.7 198.7L373.5 199.2L374.3 200.9" stroke="#000080"/>
<path d="M87.5 201.4L88.3 202L89.1 203.1L89.9 202L90.7 202.1L91.5 201.4L92.3 201.5L93.1 201.4L93.9 201.7L94.7 201.4L95.5 201.7L96.3 201.9L97.1 201.5L97.9 201.4L98.7 201.4L99.5 202.2L100.3 202L101.1 202.4L101.9 202.4L102.7 201.7L103.5 202.2L104.3 201.2L105.1 202.8L105.9 202.3L106.7 201.6L107.5 201.1L108.3 201.8L109.1 200.7L109.9 201.2L110.7 201.8L111.5 201.5L112.3 201.2L113.1 201.8L113.9 200.9L114.7 201.5L115.5 201.2L116.3 201L117.1 201.6L117.9 201L118.7 202.3L119.5 201.3L120.3 202.4L121.1 201.1L121.9 201.9L122.7 201.1L123.5 201.1L124.3 201.8L125.1 202.1L125.9 201.3L126.7 202.4L127.5 201.6L128.3 202L129.1 202.1L129.9 202.3L130.7 201.2L131.5 202.7L132.3 202.2L133.1 201.8L133.9 201.5L134.7 201.2L135.5 201.3L136.3 202.1L137.1 201.7L137.9 201.3L138.7 201.5L139.5 202.4L140.3 201.5L141.1 201.3L141.9 202.2L142.7 201.7L143.5 201.5L144.3 201.2L145.1 200.7L145.9 200.9L146.7 201.2L147.5 201.3L148.3 201.6L149.1 201.7L149.9 201.5L150.7 201.5L151.5 201L152.3 200.5L153.1 201.3L153.9 201.2L154.7 201.3L155.5 201.6L156.3 201.2L157.1 201.3L157.9 201.8L158.7 201.9L159.5 201.6L160.3 202.1L161.1 201.9L161.9 201.5L162.7 202L163.5 202.8L164.3 201.7L165.1 202.5L165.9 202.6L166.7 202.6L167.5 201.6L168.3 202.8L169.1 201.9L169.9 201.7L170.7 201.7L171.5 202L172.3 201.7L173.1 201.6L173.9 202.2L174.7 201.2L175.5 201.1L176.3 201.9L177.1 201.8L177.9 201.9L178.7 200.9L179.5 201.9L180.3 201.6L181.1 202.2L181.9 200.8L182.7 201.5L183.5 201.3L184.3 200.8L185.1 201.2L185.9 202L186.7 201.4L187.5 201.3L188.3 202.1L189.1 202.2L189.9 202.2L190.7 201.5L191.5 201.8L192.3 202.3L193.1 201.6L193.9 201.6L194.7 202.3L195.5 202.7L196.3 201.5L197.1 200.8L197.9 201.3L198.7 201.5L199.5 201.9L200.3 202.2L201.1 201.8L201.2 201.6L201.9 198.5L202.6 195.5L203.3 192.6L204 189.5L204.7 186.4L205.4 183.4L206.1 180.4L206.8 177.3L207.5 174.4L208.2 171.4L208.9 168.6L209.6 165.6L210.3 162.7L211 159.9L211.7 157.2L212.4 154.6L213.1 151.9L213.8 149.5L214.5 146.8L215.2 144.5L215.9 142L216.6 139.7L217.3 137.1L218 135.1L218.7 133.3L219.4 131.3L220.1 129.1L220.8 127.2L221.5 125.1L222.2 123.2L222.9 121.2L223.6 119.6L224.3 117.7L225 115.7L225.7 113.9L226.4 112.2L227.1 110.4L227.8 108.5L228.5 107.1L229.2 105.2L229.9 103.6L230.6 102.2L231.3 100.6L232 98.9L232.7 97.6L233.4 95.9L234.1 94.6L234.8 93L235.5 92.2L236.2 90.5L236.9 89.6L237.6 88.1L238.3 86.8L239 85.7L239.7 84.6L240.4 83.4L241.1 82.4L241.8 80.9L242.5 79.8L243.2 78.4L243.9 77.3L244.6 76.1L245.3 74.8L246 73.7L246.7 72.5L247.4 71.4L248.1 70.2L248.8 69L249.5 67.8L250.2 66.9L250.9 65.4L251.6 64.4L252.3 63.7L253 61.9L253.7 61.1L254.4 60.3L255.1 58.8L255.8 58.4L256.5 56.6L257.2 56.1L257.9 55.1L258.6 54L259.3 52.8L260 51.9L260.7 50.7L261.4 50L262.1 48.7L262.8 47.8L263.5 47L264.2 45.7L264.9 44.8L265.6 43.9L266.3 42.7L267 42.1L267.7 40.9L268.4 39.6L269.1 38.8L269.8 37.7L270.5 36.7L271.2 35.8L271.9 34.7L272.6 33.9L273.3 32.7L274 31.9L274.7 30.7L275.4 29.8L276.1 28.6L276.8 27.6L277.5 26.5L278.2 25.7L278.9 24.8L279.6 23.9L280.3 22.7L281 21.5L281.7 20.3L282.4 19.2L283.1 18L283.8 17.2L284.5 16.1L285.2 14.9L285.9 14.1L286.6 13.7L287.3 12.9L288 12.1L288.7 11.8L289.4 11L290.1 10.5L290.8 10.1L291.6 9.8L291.9 19.8L291.9 20.9L291.9 21.5L291.9 22.4L291.9 23.1L291.9 24.1L291.9 24.8L292 25.6L292 26.3L292 27.2L292 27.9L292 28.8L292 29.6L292 30.4L292 31.4L292 32L292 32.8L292 33.6L292 34.4L292.1 35.3L292.1 36.1L292.1 36.7L292.1 37.7L292.1 38.4L292.1 39.3L292.1 40L292.1 40.7L292.1 41.5L292.1 42.5L292.1 43.2L292.1 43.9L292.1 44.8L292.2 45.6L292.2 46.2L292.2 47L292.2 47.9L292.2 48.8L292.2 49.6L292.2 50.4L292.2 51.2L292.2 52L292.2 52.6L292.2 53.6L292.2 54.3L292.3 55.1L292.3 56L292.3 56.8L292.3 57.6L292.3 58.3L292.3 59.2L292.3 60.2L292.3 60.7L292.3 61.5L292.3 62.4L292.3 63.2L292.3 64L292.3 64.7L292.4 65.7L292.4 66.3L292.4 67.1L292.4 67.9L292.4 68.8L292.4 69.7L292.4 70.5L292.4 71.2L292.4 72.1L292.4 72.8L292.4 73.7L292.4 74.3L292.4 75.1L292.4 76.1L292.4 76.7L292.4 77.6L292.4 78.4L292.5 79.2L292.5 80L292.5 80.9L292.5 81.4L292.5 82.5L292.5 83.4L292.5 84L292.5 84.8L292.5 85.7L292.5 86.6L292.5 87.1L292.5 88L292.5 88.8L292.6 89.6L292.6 90.4L292.6 91.3L292.6 92L292.6 92.8L292.6 93.5L292.6 94.3L292.6 95.2L292.6 96L292.6 96.7L292.7 97.7L292.7 98.4L292.7 99.1L292.7 100.1L292.7 100.7L292.7 101.6L292.7 102.4L292.8 103.2L292.8 104L292.8 104.8L292.8 105.6L292.9 106.6L292.9 107L292.9 108L292.9 108.8L293 109.5L293 110.3L293 111.4L293.1 112L293.1 113L293.2 113.7L293.2 114.4L293.3 115.2L293.3 116.1L293.4 116.9L293.4 117.6L293.5 118.4L293.5 119.2L293.6 120.1L293.7 120.8L293.8 121.5L293.9 122.3L294 123.2L294.2 123.9L294.4 124.7L294.5 125.4L294.7 126.3L294.9 127.1L295.1 127.9L295.3 128.6L295.5 129.6L295.7 130.2L295.9 131.2L296.1 131.8L296.3 132.5L296.6 133.2L296.9 133.7L297.2 134.7L297.5 135.4L297.8 136.3L298.2 136.7L298.6 137.6L299 138.1L299.4 138.9L299.9 139.3L300.3 140.2L300.8 140.8L301.3 141.6L301.8 142.2L302.2 142.7L302.7 143.6L303.2 144.2L303.7 144.8L304.2 145.5L304.6 146.2L305.1 146.8L305.6 147.3L306 148L306.5 148.9L306.9 149.5L307.4 150.1L307.8 150.7L308.3 151.4L308.8 152L309.2 152.6L309.7 153.2L310.2 154.3L310.6 154.6L311.1 155.2L311.6 155.7L312 156.4L312.5 157.3L313 158L313.4 158.5L313.9 159.2L314.4 159.7L314.8 160.2L315.3 161.4L315.7 161.9L316.2 163L316.6 162.9L317.1 163.7L317.5 164.6L318 165L318.4 165.4L318.9 166.2L319.3 167.1L319.8 167.8L320.3 168.4L320.7 169.3L321.2 170L321.6 170.4L322.1 171L322.6 171.6L323 172.5L323.5 173.3L323.9 173.7L324.4 174.6L324.8 175L325.3 175.3L325.7 176.2L326.1 177.5L326.6 178.1L327 179.2L327.5 179.4L327.9 180.4L328.4 181.3L328.9 181.8L329.3 181.9L329.8 182.7L330.3 183.5L330.7 183.7L331.2 185L331.7 185.9L332.2 185.8L332.7 187.5L333.2 187.1L333.7 187.7L334.3 188.3L334.8 188.6L335.4 189.7L335.9 190L336.5 191.3L337.1 191.2L337.7 191.6L338.3 191.6L339 191.4L339.7 192.5L340.5 192.4L341.2 193.7L342 193.4L342.8 194.6L343.5 194.2L344.3 194.5L345.1 194.3L345.9 194.4L346.7 194.8L347.5 195.1L348.3 194.2L349.1 195.1L349.9 196.8L350.6 195.1L351.4 195.2L352.2 195L353 194.7L353.7 196.8L354.5 196.2L355.3 196.6L356 198.1L356.8 198.8L357.6 196.4L358.3 198.1L359.1 198L359.9 198L360.7 198.3L361.4 198.1L362.2 199.6L363 198.9L363.8 198.9L364.6 199.8L365.4 199.6L366.1 199.4L366.9 199.4L367.7 200.8L368.5 199.9L369.3 199.5L370.1 199L370.9 199.6L371.7 199.1L372.5 200.2L373.3 200.4L374 198.6L374.8 200.4" stroke="#8000ff"/>
</g>
<g fill="none" stroke="#111" stroke-width="0.92">
<path d="M87.5 1 V217.5 H379.4" />
<path d="M87.5 217.5h-2.5M87.5 202h-4.4M87.5 186.5h-2.5M87.5 171.1h-4.4M87.5 155.6h-2.5M87.5 140.2h-4.4M87.5 124.7h-2.5M87.5 109.2h-4.4M87.5 93.8h-2.5M87.5 78.3h-4.4M87.5 62.9h-2.5M87.5 47.4h-4.4M87.5 31.9h-2.5M87.5 16.5h-4.4M87.5 1h-2.5M87.5 217.5v4.4M108.3 217.5v2.6M129.2 217.5v4.4M150.1 217.5v2.6M170.9 217.5v4.4M191.8 217.5v2.6M212.6 217.5v4.4M233.4 217.5v2.6M254.3 217.5v4.4M275.1 217.5v2.6M296 217.5v4.4M316.9 217.5v2.6M337.7 217.5v4.4M358.6 217.5v2.6M379.4 217.5v4.4"/>
</g>
<g font-size="9.5">
<text x="80.3" y="205" text-anchor="end">0</text>
<text x="80.3" y="174.1" text-anchor="end">20</text>
<text x="80.3" y="143.2" text-anchor="end">40</text>
<text x="80.3" y="112.2" text-anchor="end">60</text>
<text x="80.3" y="81.3" text-anchor="end">80</text>
<text x="80.3" y="50.4" text-anchor="end">100</text>
<text x="80.3" y="19.5" text-anchor="end">120</text>
<text x="87.5" y="232.3" text-anchor="middle">0</text>
<text x="129.2" y="232.3" text-anchor="middle">200</text>
<text x="170.9" y="232.3" text-anchor="middle">400</text>
<text x="212.6" y="232.3" text-anchor="middle">600</text>
<text x="254.3" y="232.3" text-anchor="middle">800</text>
<text x="296" y="232.3" text-anchor="middle">1000</text>
<text x="337.7" y="232.3" text-anchor="middle">1200</text>
<text x="379.4" y="232.3" text-anchor="middle">1400</text>
</g>
<g fill="none" stroke-width="0.5">
<path d="M110.5 41.3H131.5" stroke="#000000"/>
<path d="M110.5 53H131.5" stroke="#ff0000"/>
<path d="M110.5 64.7H131.5" stroke="#0000ff"/>
<path d="M110.5 76.5H131.5" stroke="#ff00ff"/>
<path d="M110.5 88.2H131.5" stroke="#008000"/>
<path d="M110.5 99.9H131.5" stroke="#000080"/>
<path d="M110.5 111.6H131.5" stroke="#8000ff"/>
</g>
<g font-size="9.35">
<text x="134.2" y="44.6">0 ng/mL</text>
<text x="134.2" y="56.3">12.5 ng/mL</text>
<text x="134.2" y="68">50 ng/mL</text>
<text x="134.2" y="79.8">125 ng/mL</text>
<text x="134.2" y="91.5">250 ng/mL</text>
<text x="134.2" y="103.2">500 ng/mL</text>
<text x="134.2" y="114.9">1000 ng/mL</text>
</g>
<text x="99.3" y="20.5" font-size="9.35" font-weight="bold">SARS-CoV-2 IgG concentration</text>
<text x="234" y="250" font-size="11.4" text-anchor="middle">Time (s)</text>
<text transform="translate(47.8 116.9) rotate(-90)" font-size="11.4" text-anchor="middle">Fluorescence signal (a.u.)</text>
<text class="serif" x="1" y="23" font-size="18.5">(a)</text>
<!-- (b) calibration -->
<g fill="none" stroke="#111" stroke-width="0.92">
<path d="M495.5 1.4V217.5H787.3"/>
<path d="M495.5 217.5h4.4M495.5 203.1h2.5M495.5 188.7h4.4M495.5 174.3h2.5M495.5 159.9h4.4M495.5 145.5h2.5M495.5 131.1h4.4M495.5 116.7h2.5M495.5 102.3h4.4M495.5 87.9h2.5M495.5 73.5h4.4M495.5 59h2.5M495.5 44.6h4.4M495.5 30.2h2.5M495.5 15.8h4.4M495.5 1.4h2.5M506.3 217.5v-2.6M519.5 217.5v-4.4M531.5 217.5v-2.6M541.6 217.5v-2.6M549.7 217.5v-2.6M594.8 217.5v-2.6M614.5 217.5v-2.6M627.8 217.5v-2.6M637.9 217.5v-2.6M646 217.5v-2.6M691.1 217.5v-2.6M710.8 217.5v-2.6M724.1 217.5v-2.6M734.2 217.5v-2.6M742.3 217.5v-2.6M787.4 217.5v-2.6M556.5 217.5v-4.4M652.8 217.5v-4.4M749.1 217.5v-4.4"/>
</g>
<path d="M518.9 222.4L524.2 213M524.2 222.4L529.6 213" stroke="#000" stroke-width="0.9" fill="none"/>
<g font-size="9.3">
<text transform="translate(490.2 220) scale(0.95 1.08)" text-anchor="end">0</text>
<text transform="translate(490.2 191.2) scale(0.95 1.08)" text-anchor="end">20</text>
<text transform="translate(490.2 162.4) scale(0.95 1.08)" text-anchor="end">40</text>
<text transform="translate(490.2 133.6) scale(0.95 1.08)" text-anchor="end">60</text>
<text transform="translate(490.2 104.8) scale(0.95 1.08)" text-anchor="end">80</text>
<text transform="translate(490.2 76) scale(0.95 1.08)" text-anchor="end">100</text>
<text transform="translate(490.2 47.1) scale(0.95 1.08)" text-anchor="end">120</text>
<text transform="translate(490.2 18.3) scale(0.95 1.08)" text-anchor="end">140</text>
<text transform="translate(519.6 229.6) scale(1 1.08)" text-anchor="middle">0.000</text>
<text transform="translate(556.5 229.6) scale(0.95 1.08)" text-anchor="middle">10</text>
<text transform="translate(652.8 229.6) scale(0.95 1.08)" text-anchor="middle">100</text>
<text transform="translate(749.1 229.6) scale(0.95 1.08)" text-anchor="middle">1000</text>
</g>
<path d="M527 182.4L528.9 182.3L530.7 182.2L532.6 182.2L534.5 182.1L536.3 182L538.2 181.9L540.1 181.8L541.9 181.7L543.8 181.6L545.7 181.5L547.5 181.4L549.4 181.3L551.3 181.2L553.1 181L555 180.9L556.9 180.8L558.7 180.6L560.6 180.4L562.5 180.2L564.3 180.1L566.2 179.9L568.1 179.7L569.9 179.4L571.8 179.2L573.7 178.9L575.5 178.7L577.4 178.4L579.3 178.1L581.1 177.8L583 177.5L584.9 177.1L586.8 176.8L588.6 176.4L590.5 176L592.4 175.5L594.2 175.1L596.1 174.6L598 174.1L599.8 173.6L601.7 173L603.6 172.5L605.4 171.8L607.3 171.2L609.2 170.5L611 169.8L612.9 169L614.8 168.2L616.6 167.4L618.5 166.6L620.4 165.6L622.2 164.7L624.1 163.7L626 162.7L627.8 161.6L629.7 160.4L631.6 159.2L633.4 158L635.3 156.7L637.2 155.4L639 154L640.9 152.5L642.8 151L644.6 149.5L646.5 147.9L648.4 146.2L650.2 144.5L652.1 142.7L654 140.9L655.8 139L657.7 137L659.6 135.1L661.4 133L663.3 130.9L665.2 128.8L667 126.6L668.9 124.4L670.8 122.2L672.6 119.9L674.5 117.6L676.4 115.2L678.2 112.8L680.1 110.4L682 108L683.8 105.6L685.7 103.2L687.6 100.7L689.4 98.3L691.3 95.9L693.2 93.4L695.1 91L696.9 88.6L698.8 86.2L700.7 83.9L702.5 81.5L704.4 79.2L706.3 76.9L708.1 74.7L710 72.5L711.9 70.4L713.7 68.3L715.6 66.2L717.5 64.2L719.3 62.2L721.2 60.3L723.1 58.4L724.9 56.6L726.8 54.9L728.7 53.2L730.5 51.6L732.4 50L734.3 48.4L736.1 47L738 45.5L739.9 44.2L741.7 42.9L743.6 41.6L745.5 40.4L747.3 39.2L749.2 38.1" fill="none" stroke="#ff0000" stroke-width="1.4" stroke-linejoin="round"/>
<path d="M519.5 183.5H522" stroke="#ff0000" stroke-width="1.2" fill="none"/>
<path d="M565.7 175.2V183M563.2 175.2h5M563.2 183h5M623.6 159.3V170M621.1 159.3h5M621.1 170h5M661.9 126.3V136.7M659.4 126.3h5M659.4 136.7h5M691 90.9V107M688.5 90.9h5M688.5 107h5M720.1 46.2V67.5M717.6 46.2h5M717.6 67.5h5M749.2 26.1V53.3M746.7 26.1h5M746.7 53.3h5" fill="none" stroke="#1a1a1a" stroke-width="0.75"/>
<g fill="#000">
<rect x="517.1" y="181.1" width="4.8" height="4.8"/>
<rect x="563.3" y="176.6" width="4.8" height="4.8"/>
<rect x="621.2" y="162.1" width="4.8" height="4.8"/>
<rect x="659.5" y="129.1" width="4.8" height="4.8"/>
<rect x="688.6" y="96.4" width="4.8" height="4.8"/>
<rect x="717.7" y="54.9" width="4.8" height="4.8"/>
<rect x="746.8" y="37.2" width="4.8" height="4.8"/>
</g>
<path d="M519.7 183.5H522" stroke="#ff0000" stroke-width="1" fill="none"/>
<text x="641.5" y="247.4" font-size="11.4" text-anchor="middle">Concentration of IgG (ng/mL)</text>
<text transform="translate(466.3 116.4) rotate(-90)" font-size="11.4" text-anchor="middle">Signal (a.u.)</text>
<text class="serif" x="429.5" y="22.7" font-size="18.5">(b)</text>
</svg>
</body></html>
